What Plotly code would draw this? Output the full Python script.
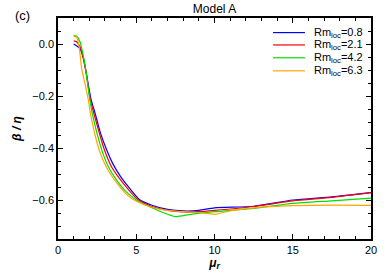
import plotly.graph_objects as go

# Rm_loc = 0.8
x_blue = [1.0, 1.2, 1.4, 1.6, 1.8, 2.1, 2.4, 2.7, 3.1, 3.5, 4.0, 4.3, 5.2, 6, 7, 8, 9, 10, 12.5, 15, 17.5, 20]
y_blue = [0.0, -0.008, -0.018, -0.05, -0.11, -0.21, -0.273, -0.34, -0.406, -0.46, -0.51, -0.534,
          -0.598, -0.62, -0.636, -0.642, -0.64, -0.63, -0.624, -0.60, -0.588, -0.572]

# Rm_loc = 2.1
x_red = [1.0, 1.2, 1.4, 1.6, 1.8, 2.05, 2.32, 2.96, 3.4, 3.9, 4.5, 5.1, 6, 7, 8, 9, 10, 12.5, 15, 17.5, 20]
y_red = [0.012, 0.008, -0.01, -0.05, -0.11, -0.21, -0.273, -0.406, -0.47, -0.515, -0.56, -0.598,
         -0.625, -0.64, -0.646, -0.645, -0.64, -0.625, -0.603, -0.59, -0.572]

# Rm_loc = 4.2
x_green = [1.0, 1.2, 1.4, 1.6, 1.8, 2.0, 2.21, 2.79, 3.2, 3.7, 4.3, 5, 6, 7, 7.5, 8.5, 10, 12.5, 15, 17.5, 20]
y_green = [0.032, 0.03, 0.01, -0.04, -0.11, -0.2, -0.273, -0.406, -0.47, -0.52, -0.565, -0.6,
           -0.63, -0.655, -0.664, -0.655, -0.645, -0.632, -0.613, -0.603, -0.593]

# Rm_loc = 6.3
x_orange = [1.0, 1.2, 1.35, 1.51, 1.75, 1.94, 2.09, 2.62, 3.1, 3.75, 4.5, 5, 6, 7, 8, 9, 10, 11, 12.5, 15, 17.5, 20]
y_orange = [0.03, 0.025, -0.01, -0.094, -0.16, -0.215, -0.273, -0.406, -0.475, -0.534, -0.585, -0.605,
            -0.628, -0.64, -0.645, -0.648, -0.655, -0.642, -0.63, -0.622, -0.62, -0.621]

labels = ["Rm<sub>loc</sub>=0.8", "Rm<sub>loc</sub>=2.1", "Rm<sub>loc</sub>=4.2", "Rm<sub>loc</sub>=6.3"]
colors = ["#0000ff", "#ff0000", "#00e000", "#ffa500"]
series = [(x_blue, y_blue), (x_red, y_red), (x_green, y_green), (x_orange, y_orange)]

fig = go.Figure()
for (xs, ys), lab, col in zip(series, labels, colors):
    fig.add_trace(go.Scatter(x=xs, y=ys, mode="lines", name=lab, showlegend=False,
                             line=dict(color=col, width=1.2, shape="spline", smoothing=0.6)))

# legend drawn by hand so the rows can sit close together like the original
legend_rows = [0.934, 0.878, 0.820, 0.761]
shapes = []
annotations = []
for yy, lab, col in zip(legend_rows, labels, colors):
    shapes.append(dict(type="line", xref="paper", yref="paper", x0=0.687, x1=0.789, y0=yy, y1=yy,
                       line=dict(color=col, width=1.2)))
    annotations.append(dict(text=lab, xref="paper", yref="paper", x=0.812, y=yy, xanchor="left",
                            yanchor="middle", showarrow=False, font=dict(size=11)))

annotations.append(dict(text="(c)", xref="paper", yref="paper", x=-0.145, y=1.013,
                        xanchor="left", yanchor="middle", showarrow=False, font=dict(size=13)))

axis_common = dict(showgrid=False, zeroline=False, showline=True, linecolor="black", linewidth=1.5,
                   mirror="ticks", ticks="inside", ticklen=5, tickwidth=1.2, tickcolor="black",
                   tickfont=dict(size=11, color="black"))

fig.update_xaxes(range=[0, 20], dtick=5,
                 minor=dict(dtick=1, ticks="inside", ticklen=3, tickwidth=1.2, tickcolor="black"),
                 title=dict(text="<b><i>μ<sub>r</sub></i></b>", font=dict(size=12), standoff=2),
                 **axis_common)
fig.update_yaxes(range=[-0.75, 0.1], dtick=0.2, tick0=0, tickformat=".1f",
                 minor=dict(dtick=0.05, ticks="inside", ticklen=3, tickwidth=1.2, tickcolor="black"),
                 title=dict(text="<b><i>β / η</i></b>", font=dict(size=12), standoff=8),
                 **axis_common)

fig.update_layout(
    width=388, height=277,
    margin=dict(l=58, r=17, t=18, b=38),
    paper_bgcolor="white", plot_bgcolor="white",
    font=dict(family="Liberation Sans, Arial, sans-serif", color="black"),
    title=dict(text="Model A", xref="paper", x=0.5, xanchor="center", y=0.985, yanchor="top",
               font=dict(size=12)),
    showlegend=False,
    shapes=shapes,
    annotations=annotations,
)

fig.write_html("out.html", config={"displayModeBar": False},
               post_script="document.body.style.margin='0';")
